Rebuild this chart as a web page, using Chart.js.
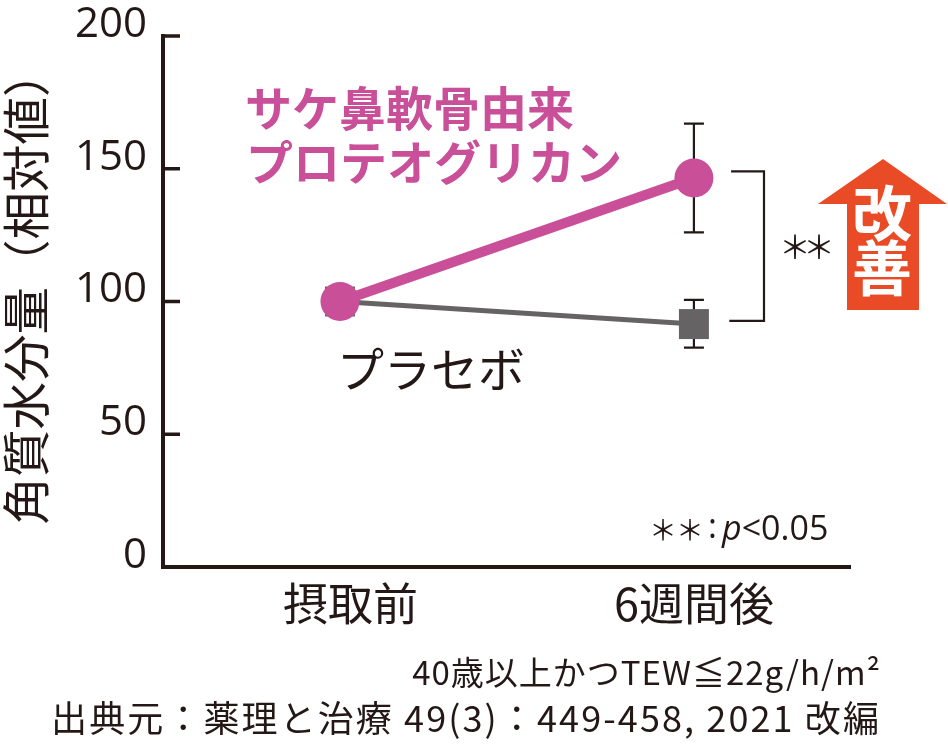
<!DOCTYPE html>
<html lang="ja">
<head>
<meta charset="utf-8">
<style>
  body { margin: 0; background: #fff; }
  canvas { display: block; }
</style>
<script src="https://cdn.jsdelivr.net/npm/chart.js@4"></script>
</head>
<body>
<canvas id="chart" width="948" height="748"></canvas>
<script>
const categories = ['摂取前', '6週間後'];
const yTicks = [0, 50, 100, 150, 200];

const proteoglycan = [100, 146.5];
const proteoglycanHigh = [null, 167];
const proteoglycanLow = [null, 126];

const placebo = [100, 91.5];
const placeboHigh = [null, 100.6];
const placeboLow = [null, 82.6];

const yTitle = '角質水分量（相対値）';
const proteoglycanLabel = ['サケ鼻軟骨由来', 'プロテオグリカン'];
const placeboLabel = 'プラセボ';
const subjectNote = '40歳以上かつTEW≦22g/h/m²';
const sourceNote = '出典元：薬理と治療 49(3)：449-458, 2021 改編';

const jp = '"Noto Sans CJK JP"';
const ink = '#231815';
const pink = '#c94f99';
const gray = '#666364';
const red = '#e94b26';

// y軸の内向き目盛り、エラーバー、有意差の括弧
const marksPlugin = {
    id: 'marks',
    beforeDatasetsDraw(chart) {
        const { ctx, scales: { x, y } } = chart;
        ctx.save();
        ctx.strokeStyle = ink;
        ctx.lineWidth = 3.5;
        yTicks.forEach(t => {
            if (t === 0) return;
            const py = y.getPixelForValue(t);
            ctx.beginPath();
            ctx.moveTo(x.left, py);
            ctx.lineTo(x.left + 17, py);
            ctx.stroke();
        });

        ctx.lineWidth = 2.2;
        [[proteoglycanHigh, proteoglycanLow], [placeboHigh, placeboLow]].forEach(([hi, lo]) => {
            hi.forEach((v, i) => {
                if (v === null) return;
                const px = x.getPixelForValue(i);
                const top = y.getPixelForValue(v);
                const bottom = y.getPixelForValue(lo[i]);
                ctx.beginPath();
                ctx.moveTo(px, top);
                ctx.lineTo(px, bottom);
                ctx.moveTo(px - 10, top);
                ctx.lineTo(px + 10, top);
                ctx.moveTo(px - 10, bottom);
                ctx.lineTo(px + 10, bottom);
                ctx.stroke();
            });
        });

        // 括弧
        const right = x.getPixelForValue(1.198);
        const top = y.getPixelForValue(149);
        const bottom = y.getPixelForValue(92.7);
        ctx.beginPath();
        ctx.moveTo(x.getPixelForValue(1.105), top);
        ctx.lineTo(right, top);
        ctx.lineTo(right, bottom);
        ctx.lineTo(x.getPixelForValue(1.1), bottom);
        ctx.stroke();
        ctx.restore();
    },
    afterDraw(chart) {
        const { ctx } = chart;
        ctx.save();
        ctx.textBaseline = 'middle';

        // y軸タイトル（全角かっこの余白の分だけ上にずらす）
        ctx.save();
        ctx.translate(25.5, 287);
        ctx.rotate(-Math.PI / 2);
        ctx.textAlign = 'center';
        ctx.fillStyle = ink;
        ctx.font = `47.5px ${jp}`;
        ctx.fillText(yTitle, 0, 0);
        ctx.restore();

        ctx.fillStyle = pink;
        ctx.font = `bold 47px ${jp}`;
        ctx.fillText(proteoglycanLabel[0], 245, 108);
        ctx.fillText(proteoglycanLabel[1], 246, 162);

        ctx.fillStyle = ink;
        ctx.font = `47px ${jp}`;
        ctx.fillText(placeboLabel, 337, 369);

        ctx.font = `32px ${jp}`;
        ctx.letterSpacing = '-8px';
        ctx.fillText('＊＊', 779, 247);

        // p値の注記
        ctx.font = `28px ${jp}`;
        ctx.letterSpacing = '-1px';
        ctx.fillText('＊＊', 649, 530);
        ctx.letterSpacing = '0px';
        ctx.font = '34px "Open Sans"';
        ctx.fillText(':', 708, 528);
        ctx.font = 'italic 34px "Open Sans"';
        ctx.fillText('p', 722, 530);
        const pWidth = ctx.measureText('p').width;
        ctx.font = '34px "Open Sans"';
        ctx.fillText('<0.05', 722 + pWidth, 530);

        // 改善の矢印
        ctx.fillStyle = red;
        ctx.beginPath();
        ctx.moveTo(883, 159);
        ctx.lineTo(947, 204);
        ctx.lineTo(919, 204);
        ctx.lineTo(919, 310);
        ctx.lineTo(847, 310);
        ctx.lineTo(847, 204);
        ctx.lineTo(818, 204);
        ctx.closePath();
        ctx.fill();
        ctx.fillStyle = '#fff';
        ctx.textAlign = 'center';
        ctx.font = `bold 60px ${jp}`;
        ctx.fillText('改', 882, 213);
        ctx.fillText('善', 882, 268);

        ctx.fillStyle = ink;
        ctx.textAlign = 'right';
        ctx.font = `33px ${jp}`;
        ctx.letterSpacing = '1px';
        ctx.fillText(subjectNote, 881, 672);
        ctx.font = `36px ${jp}`;
        ctx.letterSpacing = '2.1px';
        ctx.fillText(sourceNote, 881, 718);
        ctx.restore();
    }
};

new Chart(document.getElementById('chart').getContext('2d'), {
    type: 'line',
    data: {
        labels: categories,
        datasets: [
            {
                label: 'プロテオグリカン',
                data: proteoglycan.map((v, i) => ({ x: i, y: v })),
                borderColor: pink,
                backgroundColor: pink,
                borderWidth: 10,
                pointRadius: 19.5,
                pointHoverRadius: 19.5,
                pointBorderWidth: 0,
                order: 1
            },
            {
                label: 'プラセボ',
                data: placebo.map((v, i) => ({ x: i, y: v })),
                borderColor: gray,
                backgroundColor: gray,
                borderWidth: 5,
                pointStyle: 'rect',
                pointRadius: 21.2,
                pointHoverRadius: 21.2,
                pointBorderWidth: 0,
                order: 2
            }
        ]
    },
    options: {
        responsive: false,
        animation: false,
        layout: { padding: { top: 36, right: 98, bottom: 0, left: 0 } },
        plugins: { legend: { display: false }, tooltip: { enabled: false } },
        scales: {
            x: {
                type: 'linear',
                min: -0.5,
                max: 1.441,
                afterBuildTicks: scale => {
                    // 摂取前のラベルは点より少し右に寄っている
                    scale.ticks = [{ value: 0.03 }, { value: 1 }];
                },
                afterFit: scale => {
                    scale.height = 181;
                    scale.paddingLeft = 0;
                    scale.paddingRight = 0;
                },
                grid: { display: false },
                border: { color: ink, width: 4 },
                ticks: {
                    autoSkip: false,
                    maxRotation: 0,
                    padding: 2,
                    color: ink,
                    font: { family: 'Noto Sans CJK JP', size: 45 },
                    callback: (v, i) => categories[i]
                }
            },
            y: {
                min: 0,
                max: 200,
                afterBuildTicks: scale => {
                    scale.ticks = yTicks.map(v => ({ value: v }));
                },
                afterFit: scale => {
                    scale.width = 163;
                    scale.paddingTop = 0;
                    scale.paddingBottom = 0;
                },
                grid: { display: false },
                border: { color: ink, width: 4 },
                ticks: {
                    padding: 8,
                    color: ink,
                    labelOffset: -11,
                    font: { family: 'Open Sans', size: 42 }
                }
            }
        }
    },
    plugins: [marksPlugin]
});
</script>
</body>
</html>
